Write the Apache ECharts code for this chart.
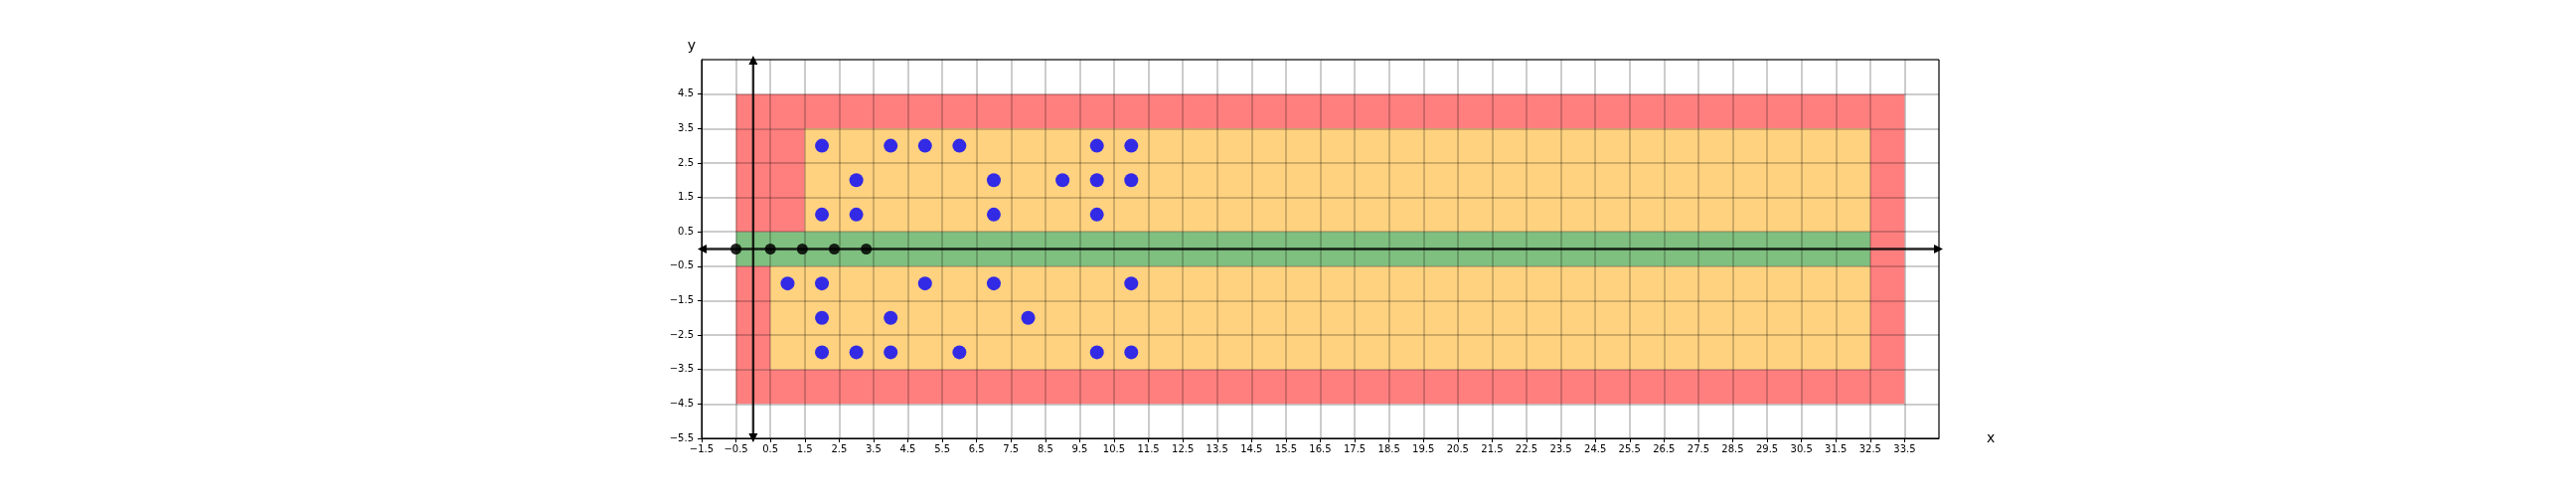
<!DOCTYPE html>
<html>
<head>
<meta charset="utf-8">
<script src="https://cdn.jsdelivr.net/npm/echarts@6/dist/echarts.min.js"></script>
<style>
html,body{margin:0;padding:0;background:#fff;}
#chart{width:2592px;height:504px;}
</style>
</head>
<body>
<div id="chart"></div>
<script>
// ---- data (in data units) ----
// rectangles: [x1, y1, x2, y2]
const redRects = [
  [-0.5, 3.5, 33.5, 4.5],
  [-0.5, -4.5, 33.5, -3.5],
  [-0.5, 0.5, 1.5, 3.5],
  [-0.5, -3.5, 0.5, -0.5],
  [32.5, -3.5, 33.5, 3.5]
];
const orangeRects = [
  [1.5, 0.5, 32.5, 3.5],
  [0.5, -3.5, 32.5, -0.5]
];
const greenRects = [
  [-0.5, -0.5, 32.5, 0.5]
];
const bluePoints = [
  [2, 3], [4, 3], [5, 3], [6, 3], [10, 3], [11, 3],
  [3, 2], [7, 2], [9, 2], [10, 2], [11, 2],
  [2, 1], [3, 1], [7, 1], [10, 1],
  [1, -1], [2, -1], [5, -1], [7, -1], [11, -1],
  [2, -2], [4, -2], [8, -2],
  [2, -3], [3, -3], [4, -3], [6, -3], [10, -3], [11, -3]
];
const blackPoints = [[-0.5, 0], [0.5, 0], [1.43, 0], [2.36, 0], [3.29, 0]];
// axis arrows: [x1, y1, x2, y2]
const arrowLines = [
  [-1.5, 0, 34.5, 0],
  [0, -5.5, 0, 5.5]
];
const xRange = [-1.5, 34.5];
const yRange = [-5.5, 5.5];
const tickStep = 1;

const fmt = v => {
  const r = Math.round(v * 10) / 10;
  return (r < 0 ? '\u2212' : '') + Math.abs(r).toFixed(1);
};

function rectSeries(data, color) {
  return {
    type: 'custom',
    z: -1,
    silent: true,
    data: data,
    renderItem: function (params, api) {
      const p1 = api.coord([api.value(0), api.value(1)]);
      const p2 = api.coord([api.value(2), api.value(3)]);
      return {
        type: 'rect',
        shape: {
          x: Math.min(p1[0], p2[0]),
          y: Math.min(p1[1], p2[1]),
          width: Math.abs(p2[0] - p1[0]),
          height: Math.abs(p2[1] - p1[1])
        },
        style: { fill: color }
      };
    }
  };
}

const font = 'DejaVu Sans';

const option = {
  animation: false,
  backgroundColor: '#fff',
  grid: { left: 706, right: 641, top: 60, bottom: 63, show: true, borderColor: '#000', borderWidth: 1, backgroundColor: 'transparent' },
  xAxis: {
    type: 'value',
    min: xRange[0], max: xRange[1], interval: tickStep,
    name: 'x', nameLocation: 'end', nameGap: 48,
    nameTextStyle: { fontFamily: font, fontSize: 14, color: '#000' },
    axisLine: { show: true, onZero: false, lineStyle: { color: '#000', width: 1 } },
    axisTick: { show: true, inside: false, length: 4, lineStyle: { color: '#000' } },
    axisLabel: { formatter: fmt, showMaxLabel: false, showMinLabel: true, fontFamily: font, fontSize: 10, color: '#000', margin: 6 },
    splitLine: { show: true, lineStyle: { color: 'rgba(0,0,0,0.27)', width: 1.5 } }
  },
  yAxis: {
    type: 'value',
    min: yRange[0], max: yRange[1], interval: tickStep,
    name: 'y', nameLocation: 'end', nameGap: 7,
    nameTextStyle: { fontFamily: font, fontSize: 14, color: '#000', padding: [0, 20, 0, 0] },
    axisLine: { show: true, onZero: false, lineStyle: { color: '#000', width: 1 } },
    axisTick: { show: true, inside: false, length: 4, lineStyle: { color: '#000' } },
    axisLabel: { formatter: fmt, showMaxLabel: false, showMinLabel: true, fontFamily: font, fontSize: 10, color: '#000', margin: 8 },
    splitLine: { show: true, lineStyle: { color: 'rgba(0,0,0,0.27)', width: 1.5 } }
  },
  series: [
    rectSeries(redRects, 'rgba(255,0,0,0.5)'),
    rectSeries(orangeRects, 'rgba(255,165,0,0.5)'),
    rectSeries(greenRects, 'rgba(0,128,0,0.5)'),
    {
      type: 'scatter',
      z: 3,
      data: bluePoints,
      symbol: 'circle',
      symbolSize: 14,
      itemStyle: { color: '#0000ff', opacity: 0.8 },
      silent: true
    },
    {
      type: 'custom',
      z: 4,
      silent: true,
      clip: false,
      data: arrowLines,
      renderItem: function (params, api) {
        const a = api.coord([api.value(0), api.value(1)]);
        const b = api.coord([api.value(2), api.value(3)]);
        const dx = b[0] - a[0], dy = b[1] - a[1];
        const len = Math.sqrt(dx * dx + dy * dy);
        const ux = dx / len, uy = dy / len;
        const nx = -uy, ny = ux;
        const headLen = 9, headHalf = 4.5, over = 4;
        function head(p, dir) {
          const tip = [p[0] + dir * ux * over, p[1] + dir * uy * over];
          const base = [tip[0] - dir * ux * headLen, tip[1] - dir * uy * headLen];
          return {
            type: 'polygon',
            shape: { points: [tip, [base[0] + nx * headHalf, base[1] + ny * headHalf], [base[0] - nx * headHalf, base[1] - ny * headHalf]] },
            style: { fill: '#000' }
          };
        }
        return {
          type: 'group',
          children: [
            { type: 'line', shape: { x1: a[0], y1: a[1], x2: b[0], y2: b[1] }, style: { stroke: 'rgba(0,0,0,0.85)', lineWidth: 2.4 } },
            head(b, 1),
            head(a, -1)
          ]
        };
      }
    },
    {
      type: 'scatter',
      z: 5,
      data: blackPoints,
      symbol: 'circle',
      symbolSize: 11,
      itemStyle: { color: '#000', opacity: 0.85 },
      silent: true
    }
  ]
};

const chart = echarts.init(document.getElementById('chart'), null, { renderer: 'canvas' });
chart.setOption(option);
</script>
</body>
</html>
